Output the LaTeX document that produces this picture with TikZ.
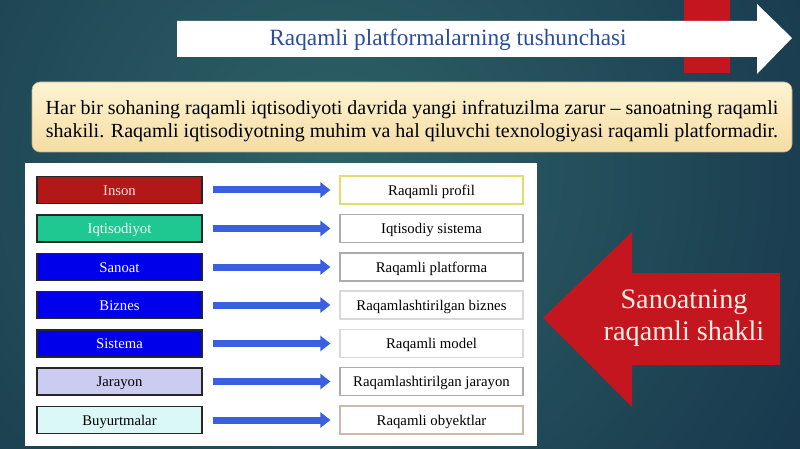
\documentclass[tikz,border=0pt]{standalone}
\usepackage{fontspec}
\setmainfont{Liberation Serif}
\usetikzlibrary{arrows.meta}
\definecolor{bgin}{HTML}{2E6266}
\definecolor{bgout}{HTML}{15334A}
\definecolor{titleblue}{HTML}{2A4D9A}
\definecolor{arrowblue}{HTML}{3A5FE0}
\definecolor{bigred}{HTML}{C4161E}
\definecolor{creamtop}{HTML}{FDF3D2}
\definecolor{creambot}{HTML}{F5DDA3}
\tikzset{
  lbox/.style={draw=black!85, line width=1.2pt, minimum width=165pt, minimum height=27pt, inner sep=0pt, text height=1.05em, text depth=0pt, font=\fontsize{14.7}{16}\selectfont},
  rbox/.style={draw=gray!65, fill=white, line width=1.2pt, minimum width=183pt, minimum height=28pt, inner sep=0pt, text height=1.05em, text depth=0pt, font=\fontsize{14.8}{16}\selectfont},
  conn/.style={draw=arrowblue, line width=7pt, -{Triangle[length=10pt,width=15pt]}, shorten <=10pt, shorten >=9pt}
}
\begin{document}
\begin{tikzpicture}[x=1pt,y=-1pt]
\useasboundingbox (0,0) rectangle (800,449);
% background
\begin{scope}
\clip (0,0) rectangle (800,449);
\fill[bgout] (0,0) rectangle (800,449);
\shade[inner color=bgin, outer color=bgout] (330,170) circle (620);
\end{scope}
% red bar and white title arrow
\fill[bigred] (684,0) rectangle (730,73);
\fill[white] (177,21) -- (757,21) -- (757,4) -- (792,38) -- (757,74) -- (757,57) -- (177,57) -- cycle;
\node[text=titleblue, font=\fontsize{23.3}{25}\selectfont] (title) at (448,40) {Raqamli platformalarning tushunchasi};
% cream text box
\shade[top color=creamtop, bottom color=creambot, draw=creambot!80!black, line width=0.6pt, rounded corners=8pt] (32,82) rectangle (792,152);
\node[align=center, font=\fontsize{20}{23}\selectfont, text=black] (intro) at (412,121)
  {Har bir sohaning raqamli iqtisodiyoti davrida yangi infratuzilma zarur – sanoatning raqamli\\
   shakili. Raqamli iqtisodiyotning muhim va hal qiluvchi texnologiyasi raqamli platformadir.};
% white panel
\fill[white] (25,163) rectangle (537,446);
% left boxes
\node[lbox, fill={rgb,255:red,178;green,24;blue,24}, text={rgb,255:red,255;green,220;blue,220}] (l1) at (119.5,190) {Inson};
\node[lbox, fill={rgb,255:red,32;green,200;blue,145}, text={rgb,255:red,235;green,255;blue,250}] (l2) at (119.5,228.5) {Iqtisodiyot};
\node[lbox, fill={rgb,255:red,0;green,0;blue,235}, text=white] (l3) at (119.5,267) {Sanoat};
\node[lbox, fill={rgb,255:red,0;green,0;blue,235}, text=white] (l4) at (119.5,305) {Biznes};
\node[lbox, fill={rgb,255:red,0;green,0;blue,235}, text=white] (l5) at (119.5,343.5) {Sistema};
\node[lbox, fill={rgb,255:red,204;green,204;blue,240}, text=black] (l6) at (119.5,381.5) {Jarayon};
\node[lbox, fill={rgb,255:red,218;green,248;blue,248}, text=black] (l7) at (119.5,420) {Buyurtmalar};
% right boxes
\node[rbox, draw={rgb,255:red,225;green,222;blue,110}] (r1) at (431.5,190) {Raqamli profil};
\node[rbox] (r2) at (431.5,228.5) {Iqtisodiy sistema};
\node[rbox] (r3) at (431.5,267) {Raqamli platforma};
\node[rbox, draw=gray!30] (r4) at (431.5,305) {Raqamlashtirilgan biznes};
\node[rbox, draw=gray!30] (r5) at (431.5,343.5) {Raqamli model};
\node[rbox] (r6) at (431.5,381.5) {Raqamlashtirilgan jarayon};
\node[rbox, draw={rgb,255:red,205;green,185;blue,170}] (r7) at (431.5,420) {Raqamli obyektlar};
% connectors
\foreach \i in {1,...,7} { \draw[conn] (l\i) -- (r\i); }
% big red arrow
\fill[bigred] (543,318) -- (632,232) -- (632,273) -- (780,273) -- (780,365) -- (632,365) -- (632,407) -- cycle;
\node[align=center, font=\fontsize{28.2}{32}\selectfont, text={rgb,255:red,255;green,240;blue,228}] (side) at (684,318.5) {Sanoatning\\raqamli shakli};
\end{tikzpicture}
\end{document}
